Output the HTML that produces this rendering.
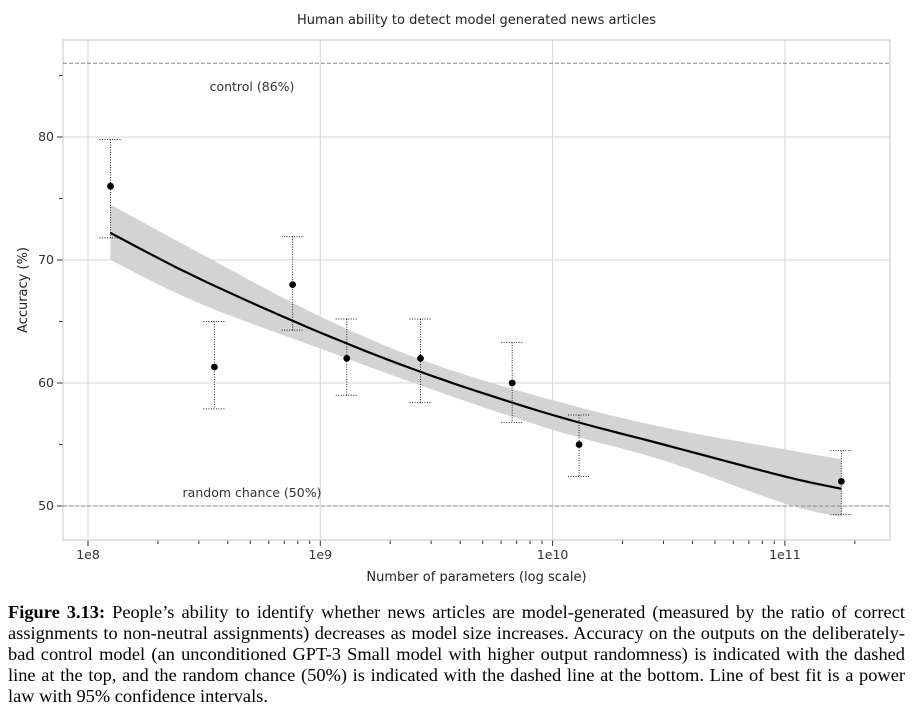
<!DOCTYPE html>
<html><head><meta charset="utf-8"><style>
body{margin:0;width:914px;height:720px;background:#fff;overflow:hidden;position:relative}
svg{position:absolute;left:0;top:0}
.cap{position:absolute;left:8px;width:897px;font-family:"Liberation Serif",serif;font-size:18.4px;line-height:21px;color:#000;text-align:justify;text-align-last:justify;white-space:nowrap}
.cap.last{text-align-last:left}
</style></head><body>
<svg id="chart" width="914" height="600" font-family="DejaVu Sans, sans-serif"></svg>
<div>
<div class="cap" style="top:602px"><b>Figure 3.13:</b> People’s ability to identify whether news articles are model-generated (measured by the ratio of correct</div>
<div class="cap" style="top:623px">assignments to non-neutral assignments) decreases as model size increases. Accuracy on the outputs on the deliberately-</div>
<div class="cap" style="top:644px">bad control model (an unconditioned GPT-3 Small model with higher output randomness) is indicated with the dashed</div>
<div class="cap" style="top:665px">line at the top, and the random chance (50%) is indicated with the dashed line at the bottom. Line of best fit is a power</div>
<div class="cap last" style="top:686px">law with 95% confidence intervals.</div>
</div>
<script>
const params=[1.25e8,3.5e8,7.6e8,1.3e9,2.7e9,6.7e9,1.3e10,1.75e11];
const acc=[76,61.3,68,62,62,60,55,52];
const errHi=[79.8,65,71.9,65.2,65.2,63.3,57.4,54.5];
const errLo=[71.8,57.9,64.3,59,58.4,56.8,52.4,49.3];
const fitN=[1.25e8,3e8,1e9,3e9,1e10,3e10,1e11,1.75e11];
const fitV=[72.2,68.5,64.1,60.6,57.4,55.0,52.4,51.4];
const fitHi=[74.5,70.6,65.4,61.6,58.6,56.4,54.6,53.8];
const fitLo=[70.0,66.5,62.8,59.5,56.2,53.7,50.2,49.1];
const yTicks=[50,60,70,80];
const yMinor=[55,65,75,85];
const xTicks=[1e8,1e9,1e10,1e11];
const xTickLabels=["1e8","1e9","1e10","1e11"];
const refLines=[86,50];
const refLabels=["control (86%)","random chance (50%)"];

const svg=document.getElementById('chart');
const NS='http://www.w3.org/2000/svg';
const L=63,R=890,T=40,B=540;
const X=n=>88+(Math.log10(n)-8)*232.3;
const Y=v=>506-(v-50)*12.3;
function mk(tag,at,parent){const e=document.createElementNS(NS,tag);for(const k in at)e.setAttribute(k,at[k]);(parent||svg).appendChild(e);return e;}
function smooth(xs,ys){
 // Catmull-Rom sampled points
 const out=[];
 for(let i=0;i<xs.length-1;i++){
  const p0=[xs[Math.max(i-1,0)],ys[Math.max(i-1,0)]],p1=[xs[i],ys[i]],p2=[xs[i+1],ys[i+1]],p3=[xs[Math.min(i+2,xs.length-1)],ys[Math.min(i+2,xs.length-1)]];
  for(let s=0;s<10;s++){const t=s/10,t2=t*t,t3=t2*t;
   const f=k=>0.5*((2*p1[k])+(-p0[k]+p2[k])*t+(2*p0[k]-5*p1[k]+4*p2[k]-p3[k])*t2+(-p0[k]+3*p1[k]-3*p2[k]+p3[k])*t3);
   out.push([f(0),f(1)]);}
 }
 out.push([xs[xs.length-1],ys[ys.length-1]]);
 return out;
}
const fx=fitN.map(X);

let t=mk('text',{x:(L+R)/2,y:24,'text-anchor':'middle','font-size':13,fill:'#222'});t.textContent='Human ability to detect model generated news articles';


xTicks.forEach((n,i)=>{
 let g=mk('line',{x1:X(n),x2:X(n),y1:T,y2:B,stroke:'#d6d6d6','stroke-width':1});
 
 
 mk('line',{x1:X(n),x2:X(n),y1:B,y2:B+6,stroke:'#333','stroke-width':1});
 let l=mk('text',{x:X(n),y:B+19,'text-anchor':'middle','font-size':12.5,fill:'#333'});l.textContent=xTickLabels[i];
 
 
});
for(let d=8;d<=11;d++)for(let m=2;m<=9;m++){const n=m*Math.pow(10,d);const x=X(n);if(x>R)continue;mk('line',{x1:x,x2:x,y1:B,y2:B+4,stroke:'#333','stroke-width':1});}
yTicks.forEach(v=>{
 let g=mk('line',{x1:L,x2:R,y1:Y(v),y2:Y(v),stroke:'#d6d6d6','stroke-width':1});
 
 
 mk('line',{x1:L-6,x2:L,y1:Y(v),y2:Y(v),stroke:'#333'});
 let l=mk('text',{x:L-9,y:Y(v)+4,'text-anchor':'end','font-size':12.5,fill:'#333'});l.textContent=v;
 
 
});
yMinor.forEach(v=>mk('line',{x1:L-4,x2:L,y1:Y(v),y2:Y(v),stroke:'#333'}));
let fr=mk('rect',{x:L,y:T,width:R-L,height:B-T,fill:'none',stroke:'#cfcfcf','stroke-width':1.2});


const up=smooth(fx,fitHi.map(Y)),lo=smooth(fx,fitLo.map(Y));
let band=mk('polygon',{points:up.concat(lo.reverse()).map(p=>p[0].toFixed(1)+','+p[1].toFixed(1)).join(' '),fill:'#d3d3d3'});


refLines.forEach((v,i)=>{
 let l=mk('line',{x1:L,x2:R,y1:Y(v),y2:Y(v),stroke:'#888','stroke-width':1,'stroke-dasharray':'4,2'});
 
 
});
let c1=mk('text',{x:252,y:91,'text-anchor':'middle','font-size':12.5,fill:'#333'});c1.textContent=refLabels[0];


let c2=mk('text',{x:252,y:497,'text-anchor':'middle','font-size':12.5,fill:'#333'});c2.textContent=refLabels[1];


let fl=mk('polyline',{points:smooth(fx,fitV.map(Y)).map(p=>p[0].toFixed(1)+','+p[1].toFixed(1)).join(' '),fill:'none',stroke:'#000','stroke-width':2.2,'stroke-linejoin':'round'});


params.forEach((n,i)=>{
 const x=X(n);
 let g=mk('g',{});
 
 
 mk('line',{x1:x,x2:x,y1:Y(errHi[i]),y2:Y(errLo[i]),stroke:'#222','stroke-width':1,'stroke-dasharray':'1,1.5'},g);
 mk('line',{x1:x-11,x2:x+11,y1:Y(errHi[i]),y2:Y(errHi[i]),stroke:'#222','stroke-width':1,'stroke-dasharray':'1,1.5'},g);
 mk('line',{x1:x-11,x2:x+11,y1:Y(errLo[i]),y2:Y(errLo[i]),stroke:'#222','stroke-width':1,'stroke-dasharray':'1,1.5'},g);
 let p=mk('circle',{cx:x,cy:Y(acc[i]),r:3.4,fill:'#000'});
 
 
});
let xl=mk('text',{x:(L+R)/2,y:581,'text-anchor':'middle','font-size':13,fill:'#222'});xl.textContent='Number of parameters (log scale)';


let yl=mk('text',{x:0,y:0,'text-anchor':'middle','font-size':13,fill:'#222',transform:'translate(27,290) rotate(-90)'});yl.textContent='Accuracy (%)';


</script>
</body></html>
